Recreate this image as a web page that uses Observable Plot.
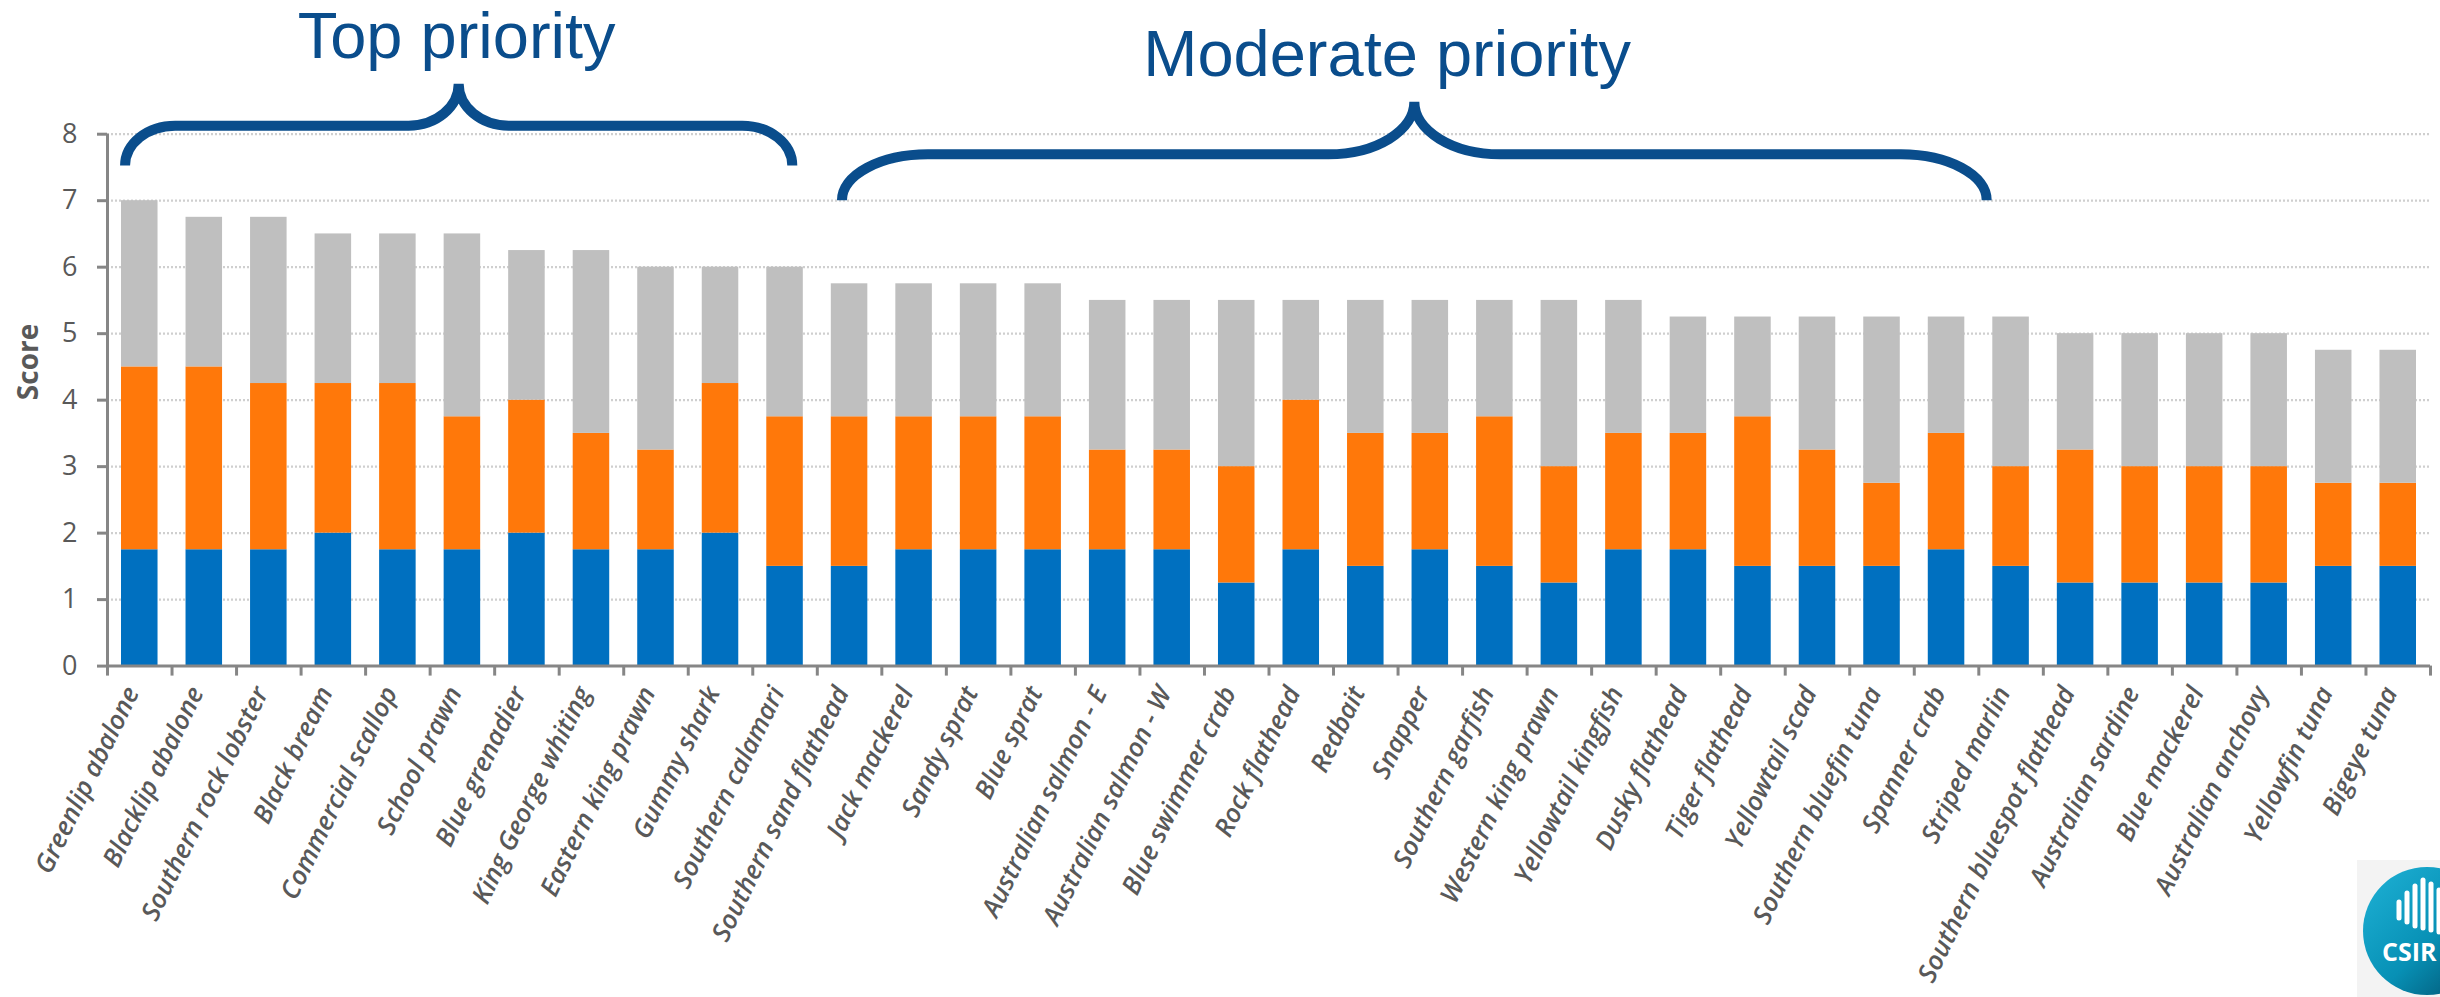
<!DOCTYPE html>
<html>
<head>
<meta charset="utf-8">
<script src="https://cdn.jsdelivr.net/npm/d3@7"></script>
<script src="https://cdn.jsdelivr.net/npm/@observablehq/plot@0.6"></script>
<style>
  html, body { margin: 0; padding: 0; background: #fff; }
  #chart { position: relative; width: 2440px; height: 997px; overflow: hidden; }
</style>
</head>
<body>
<div id="chart"></div>
<script>
// Species, in ranked order
const species = [
  "Greenlip abalone", "Blacklip abalone", "Southern rock lobster", "Black bream",
  "Commercial scallop", "School prawn", "Blue grenadier", "King George whiting",
  "Eastern king prawn", "Gummy shark", "Southern calamari", "Southern sand flathead",
  "Jack mackerel", "Sandy sprat", "Blue sprat", "Australian salmon - E",
  "Australian salmon - W", "Blue swimmer crab", "Rock flathead", "Redbait",
  "Snapper", "Southern garfish", "Western king prawn", "Yellowtail kingfish",
  "Dusky flathead", "Tiger flathead", "Yellowtail scad", "Southern bluefin tuna",
  "Spanner crab", "Striped marlin", "Southern bluespot flathead", "Australian sardine",
  "Blue mackerel", "Australian anchovy", "Yellowfin tuna", "Bigeye tuna"
];

// Score components (stacked bottom to top)
const component1 = [
  1.75, 1.75, 1.75, 2, 1.75, 1.75, 2, 1.75, 1.75, 2, 1.5, 1.5,
  1.75, 1.75, 1.75, 1.75, 1.75, 1.25, 1.75, 1.5, 1.75, 1.5, 1.25, 1.75,
  1.75, 1.5, 1.5, 1.5, 1.75, 1.5, 1.25, 1.25, 1.25, 1.25, 1.5, 1.5
];
const component2 = [
  2.75, 2.75, 2.5, 2.25, 2.5, 2, 2, 1.75, 1.5, 2.25, 2.25, 2.25,
  2, 2, 2, 1.5, 1.5, 1.75, 2.25, 2, 1.75, 2.25, 1.75, 1.75,
  1.75, 2.25, 1.75, 1.25, 1.75, 1.5, 2, 1.75, 1.75, 1.75, 1.25, 1.25
];
const component3 = [
  2.5, 2.25, 2.5, 2.25, 2.25, 2.75, 2.25, 2.75, 2.75, 1.75, 2.25, 2,
  2, 2, 2, 2.25, 2.25, 2.5, 1.5, 2, 2, 1.75, 2.5, 2,
  1.75, 1.5, 2, 2.5, 1.75, 2.25, 1.75, 2, 2, 2, 2, 2
];
const components = ["Component 1", "Component 2", "Component 3"];
const componentColors = ["#0070C0", "#FF780A", "#BFBFBF"];

// Y axis ticks
const yTicks = [0, 1, 2, 3, 4, 5, 6, 7, 8];

// Priority groups with their brace extents (x in bar-slot units, y in score units)
const groupLabels = ["Top priority", "Moderate priority"];
const braceStart = [0.28, 11.39];
const braceEnd = [10.62, 29.13];
const braceTipLevel = [7.52, 7.0];
const braceBarLevel = [8.12, 7.69];
const bracePeakLevel = [8.75, 8.48];
const groupLabelLevel = [9.15, 8.87];
const groupLabelCenter = [5.41, 19.83];

const rows = species.flatMap((name, i) =>
  [component1, component2, component3].map((series, k) => ({
    i, name, component: components[k], value: series[i]
  }))
);

const groups = groupLabels.map((label, k) => ({
  label,
  x1: braceStart[k], x2: braceEnd[k],
  tip: braceTipLevel[k], bar: braceBarLevel[k], peak: bracePeakLevel[k],
  labelY: groupLabelLevel[k], labelX: groupLabelCenter[k]
}));

const axisGray = "#868686";
const textGray = "#595959";
const braceBlue = "#0A4D8C";

const plot = Plot.plot({
  width: 2440,
  height: 997,
  marginLeft: 107,
  marginRight: 10,
  marginTop: 133.7,
  marginBottom: 331.4,
  style: { fontFamily: "'Open Sans', sans-serif", background: "#fff" },
  x: { type: "linear", domain: [0, species.length], axis: null, label: null },
  y: { domain: [0, 8], axis: null, label: null },
  color: { domain: components, range: componentColors },
  marks: [
    // dotted horizontal gridlines
    Plot.ruleY(yTicks.filter(d => d > 0), {
      stroke: "#CFCFCF", strokeWidth: 2.2, strokeDasharray: "2,2"
    }),
    // stacked bars
    Plot.rectY(rows, {
      x1: "i", x2: d => d.i + 1, y: "value", fill: "component",
      insetLeft: 14, insetRight: 14
    }),
    // axis lines
    Plot.ruleX([0], { stroke: axisGray, strokeWidth: 3 }),
    Plot.ruleY([0], { stroke: axisGray, strokeWidth: 3 }),
    // y axis ticks and labels
    Plot.axisY(yTicks, {
      tickSize: 10, tickPadding: 20, stroke: axisGray, strokeWidth: 3,
      fill: textGray, fontSize: 27, label: null, tickFormat: d3.format("d")
    }),
    // x axis ticks between categories
    Plot.axisX(d3.range(0, species.length + 1), {
      tickSize: 10, stroke: axisGray, strokeWidth: 3,
      tickFormat: () => "", label: null
    }),
    // category labels
    Plot.text(species, {
      x: (d, i) => i + 0.5, text: d => d, frameAnchor: "bottom",
      rotate: -64, textAnchor: "end", dy: 26, dx: 0,
      fill: textGray, fontSize: 26, fontStyle: "italic", fontWeight: 600
    }),
    // axis title
    Plot.text(["Score"], {
      frameAnchor: "left", rotate: -90, dx: -78,
      fill: textGray, fontSize: 28, fontWeight: "bold"
    }),
    // priority group labels with their braces
    Plot.text(groups, {
      x: "labelX", y: "labelY", text: "label", lineAnchor: "bottom",
      fill: braceBlue, fontSize: 65,
      fontFamily: "'Liberation Sans', Arial, sans-serif",
      render(index, scales, values, dimensions, context, next) {
        const g = d3.create("svg:g");
        for (const k of index) {
          const d = groups[k];
          const x0 = scales.x(d.x1), x1 = scales.x(d.x2), xm = (x0 + x1) / 2;
          const yT = scales.y(d.tip), yB = scales.y(d.bar), yP = scales.y(d.peak);
          const rx = (x1 - x0) * 0.075;
          const r1 = yT - yB, r2 = yB - yP;
          g.append("path")
            .attr("fill", "none")
            .attr("stroke", braceBlue)
            .attr("stroke-width", 10)
            .attr("d",
              `M${x0},${yT}A${rx},${r1} 0 0 1 ${x0 + rx},${yB}` +
              `L${xm - rx},${yB}A${rx},${r2} 0 0 0 ${xm},${yP}` +
              `A${rx},${r2} 0 0 0 ${xm + rx},${yB}` +
              `L${x1 - rx},${yB}A${rx},${r1} 0 0 1 ${x1},${yT}`);
        }
        g.append(() => next(index, scales, values, dimensions, context));
        return g.node();
      }
    })
  ]
});

document.getElementById("chart").appendChild(plot);

// Organisation badge in the lower right corner
const svg = d3.select(plot);
const defs = svg.append("defs");
const grad = defs.append("linearGradient").attr("id", "badgeGrad")
  .attr("x1", "0").attr("y1", "0").attr("x2", "1").attr("y2", "1");
grad.append("stop").attr("offset", "0").attr("stop-color", "#1FB2D6");
grad.append("stop").attr("offset", "0.55").attr("stop-color", "#0790B5");
grad.append("stop").attr("offset", "1").attr("stop-color", "#014A66");
const badge = svg.append("g");
badge.append("rect").attr("x", 2357).attr("y", 860).attr("width", 90).attr("height", 140).attr("fill", "#F3F3F3");
badge.append("circle").attr("cx", 2427).attr("cy", 931).attr("r", 64).attr("fill", "url(#badgeGrad)");
[[2399, 902, 918], [2407, 893, 922], [2415, 886, 926], [2423, 880, 928], [2431, 884, 930], [2439, 890, 932]]
  .forEach(([x, y1, y2]) => badge.append("line").attr("x1", x).attr("x2", x).attr("y1", y1).attr("y2", y2)
    .attr("stroke", "#fff").attr("stroke-width", 5).attr("stroke-linecap", "round"));
badge.append("text").attr("x", 2382).attr("y", 961).attr("fill", "#fff")
  .attr("text-anchor", "start")
  .attr("font-family", "'Open Sans', sans-serif").attr("font-weight", "bold").attr("font-size", 25)
  .text("CSIR");
</script>
</body>
</html>
